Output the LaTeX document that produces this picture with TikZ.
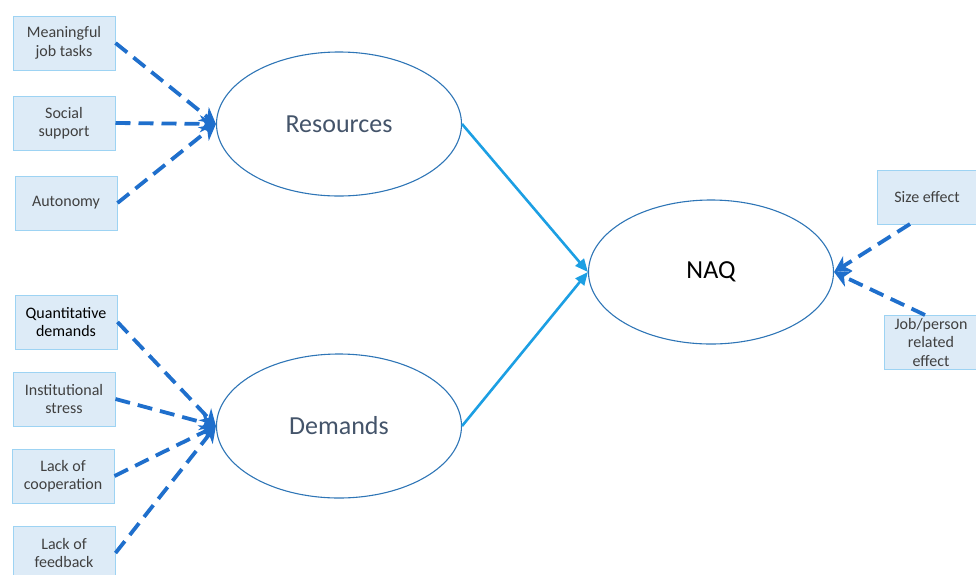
\documentclass[tikz,border=0pt]{standalone}
\usepackage{fontspec}
\setmainfont{Carlito}
\usetikzlibrary{arrows.meta,shapes.geometric}
\definecolor{boxfill}{HTML}{DDEBF7}
\definecolor{boxline}{HTML}{9DD3F3}
\definecolor{txt}{HTML}{404040}
\definecolor{ellline}{HTML}{2E75B6}
\definecolor{elltxt}{HTML}{44546A}
\definecolor{dasharr}{HTML}{1F6FCC}
\definecolor{solarr}{HTML}{1C9FE3}
\begin{document}
\begin{tikzpicture}[x=1pt,y=-1pt,
  factor/.style={draw=boxline,fill=boxfill,line width=1pt,minimum width=102pt,minimum height=54pt,
    text=txt,font=\fontsize{16}{18.5}\selectfont,align=center,inner sep=2pt},
  latent/.style={ellipse,draw=ellline,line width=1.1pt,minimum width=245pt,minimum height=144pt,
    font=\fontsize{26}{30}\selectfont,text=elltxt},
  dasharrow/.style={draw=dasharr,line width=3.8pt,dash pattern=on 15pt off 8pt,
    -{Stealth[length=16pt,width=17pt,inset=5pt]}},
  solidarrow/.style={draw=solarr,line width=2.6pt,-{Triangle[length=13pt,width=11pt]}}]
\useasboundingbox (0,0) rectangle (976,574);
\clip (0,0) rectangle (976,574);
\node[factor] (mjt) at (64,43) {Meaningful\\job tasks};
\node[factor] (ss) at (64,123) {Social\\support};
\node[factor] (aut) at (66,203) {Autonomy};
\node[factor,text=black] (qd) at (66,322) {Quantitative\\demands};
\node[factor] (is) at (64,399) {Institutional\\stress};
\node[factor] (lc) at (63,476) {Lack of\\cooperation};
\node[factor] (lf) at (64,553) {Lack of\\feedback};
\node[factor,minimum width=100pt] (se) at (927,197) {Size effect};
\node[factor,minimum width=94pt] (jp) at (931,342) {Job/person\\related\\effect};
\node[latent] (res) at (339,124) {Resources};
\node[latent] (dem) at (339,426) {Demands};
\node[latent,text=black] (naq) at (711,272) {NAQ};
\draw[dasharrow] (mjt.east) -- (res.west);
\draw[dasharrow] (ss.east) -- (res.west);
\draw[dasharrow] (aut.east) -- (res.west);
\draw[dasharrow] (qd.east) -- (dem.west);
\draw[dasharrow] (is.east) -- (dem.west);
\draw[dasharrow] (lc.east) -- (dem.west);
\draw[dasharrow] (lf.east) -- (dem.west);
\draw[solidarrow] (res.east) -- (naq.west);
\draw[solidarrow] (dem.east) -- (naq.west);
\coordinate (sep) at (910,224);
\coordinate (jpp) at (925,315);
\draw[dasharrow] (sep) -- (naq.east);
\draw[dasharrow] (jpp) -- (naq.east);
\end{tikzpicture}
\end{document}
